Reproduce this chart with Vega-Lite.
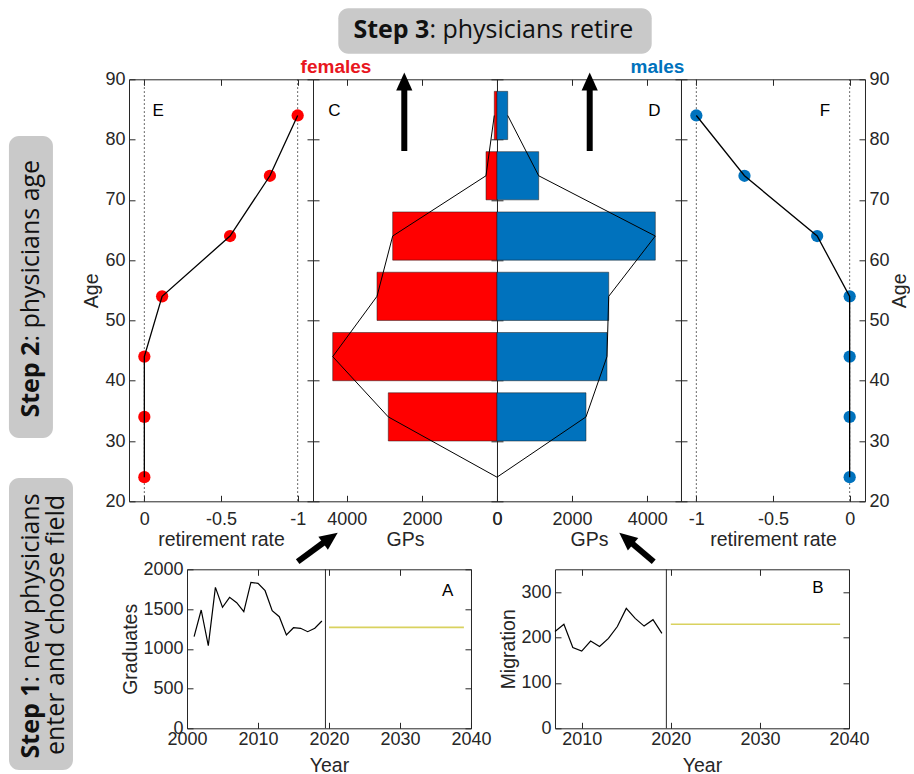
{
  "$schema": "https://vega.github.io/schema/vega-lite/v6.json",
  "padding": {"left": 8, "top": 7.3, "right": 0, "bottom": 0},
  "spacing": -73,
  "datasets": {
    "fret": [{"age":24,"rate":0},{"age":34,"rate":0},{"age":44,"rate":0},{"age":54,"rate":-0.116},{"age":64,"rate":-0.559},{"age":74,"rate":-0.819},{"age":84,"rate":-1}],
    "mret": [{"age":24,"rate":0},{"age":34,"rate":0},{"age":44,"rate":0},{"age":54,"rate":0},{"age":64,"rate":-0.212},{"age":74,"rate":-0.686},{"age":84,"rate":-1}],
    "pyr": [
      {"age":24,"lo":null,"hi":null,"f":0,"m":0},
      {"age":34,"lo":30,"hi":38,"f":2895,"m":2370},
      {"age":44,"lo":40,"hi":48,"f":4375,"m":2929},
      {"age":54,"lo":50,"hi":58,"f":3196,"m":2975},
      {"age":64,"lo":60,"hi":68,"f":2778,"m":4216},
      {"age":74,"lo":70,"hi":78,"f":293,"m":1110},
      {"age":84,"lo":80,"hi":88,"f":72,"m":285}
    ],
    "guides": [{"v":0},{"v":-1}],
    "grad": [
      {"year":2001,"v":1152},{"year":2002,"v":1488},{"year":2003,"v":1039},{"year":2004,"v":1773},
      {"year":2005,"v":1522},{"year":2006,"v":1648},{"year":2007,"v":1580},{"year":2008,"v":1467},
      {"year":2009,"v":1836},{"year":2010,"v":1824},{"year":2011,"v":1731},{"year":2012,"v":1479},
      {"year":2013,"v":1404},{"year":2014,"v":1174},{"year":2015,"v":1265},{"year":2016,"v":1258},
      {"year":2017,"v":1215},{"year":2018,"v":1258},{"year":2019,"v":1350}
    ],
    "gradProj": [{"year":2020,"v":1270},{"year":2039,"v":1270}],
    "mig": [
      {"year":2007,"v":213},{"year":2008,"v":229},{"year":2009,"v":178},{"year":2010,"v":170},
      {"year":2011,"v":192},{"year":2012,"v":180},{"year":2013,"v":198},{"year":2014,"v":224},
      {"year":2015,"v":264},{"year":2016,"v":242},{"year":2017,"v":225},{"year":2018,"v":239},
      {"year":2019,"v":209}
    ],
    "migProj": [{"year":2020,"v":229},{"year":2039,"v":229}]
  },
  "vconcat": [
    {
      "hconcat": [
        {
          "width": 184, "height": 422,
          "resolve": {"axis": {"x": "independent", "y": "independent"}},
          "layer": [
            {"data": {"name": "guides"}, "mark": {"type": "rule", "color": "#3a3a3a", "strokeWidth": 1, "strokeDash": [1.5, 2.5]},
             "encoding": {"x": {"field": "v", "type": "quantitative", "scale": {"domain": [-1.1, 0.1], "reverse": true, "nice": false, "zero": false}, "axis": null}}},
            {"data": {"name": "fret"}, "mark": {"type": "circle", "color": "#FF0000", "size": 150, "opacity": 1},
             "encoding": {
               "x": {"field": "rate", "type": "quantitative", "scale": {"domain": [-1.1, 0.1], "reverse": true, "nice": false, "zero": false}, "axis": {"orient": "top", "values": [0, -0.5, -1], "labels": false, "title": null}},
               "y": {"field": "age", "type": "quantitative", "scale": {"domain": [20, 90], "nice": false, "zero": false}, "axis": {"orient": "right", "values": [20,30,40,50,60,70,80,90], "labels": false, "title": null}}}},
            {"data": {"name": "fret"}, "mark": {"type": "line", "color": "black", "strokeWidth": 1.3},
             "encoding": {
               "x": {"field": "rate", "type": "quantitative", "scale": {"domain": [-1.1, 0.1], "reverse": true, "nice": false, "zero": false}, "axis": {"orient": "bottom", "values": [0, -0.5, -1], "labelExpr": "toString(datum.value)", "title": "retirement rate", "labelPadding": 15.4, "titlePadding": 2}},
               "y": {"field": "age", "type": "quantitative", "scale": {"domain": [20, 90], "nice": false, "zero": false}, "axis": {"orient": "left", "values": [20,30,40,50,60,70,80,90], "title": "Age"}},
               "order": {"field": "age", "type": "quantitative"}}},
            {"data": {"values": [{}]}, "mark": {"type": "text", "text": "E", "fontSize": 17, "color": "black", "align": "center", "baseline": "middle"},
             "encoding": {"x": {"datum": -0.091, "type": "quantitative", "axis": null}, "y": {"datum": 84.74, "type": "quantitative", "axis": null}}},
            {"data": {"values": [{}]}, "mark": {"type": "rect", "color": "#C9C9C9", "cornerRadius": 10, "clip": false},
             "encoding": {"x": {"datum": 0.883, "type": "quantitative", "axis": null}, "x2": {"datum": 0.596}, "y": {"datum": 80.59, "type": "quantitative", "axis": null}, "y2": {"datum": 30.5}}},
            {"data": {"values": [{}]}, "mark": {"type": "text", "text": "Step 2", "font": "Open Sans", "fontWeight": "bold", "fontSize": 25, "angle": 270, "align": "right", "baseline": "middle", "color": "#111111", "clip": false},
             "encoding": {"x": {"datum": 0.739, "type": "quantitative", "axis": null}, "y": {"datum": 46.49, "type": "quantitative", "axis": null}}},
            {"data": {"values": [{}]}, "mark": {"type": "text", "text": ": physicians age", "font": "Open Sans", "fontSize": 25, "angle": 270, "align": "left", "baseline": "middle", "color": "#111111", "clip": false},
             "encoding": {"x": {"datum": 0.739, "type": "quantitative", "axis": null}, "y": {"datum": 46.49, "type": "quantitative", "axis": null}}}
          ]
        },
        {
          "width": 184, "height": 422,
          "resolve": {"axis": {"x": "independent", "y": "independent"}},
          "layer": [
            {"data": {"name": "pyr"}, "transform": [{"filter": "datum.lo != null"}],
             "mark": {"type": "rect", "color": "#FF0000", "stroke": "#1a1a1a", "strokeWidth": 0.5},
             "encoding": {
               "x": {"field": "f", "type": "quantitative", "scale": {"domain": [0, 4900], "reverse": true, "nice": false, "zero": false}, "axis": {"orient": "bottom", "values": [0, 2000, 4000], "format": "d", "title": "GPs", "labelPadding": 15.4, "titlePadding": 2}},
               "x2": {"datum": 0},
               "y": {"field": "lo", "type": "quantitative", "scale": {"domain": [20, 90], "nice": false, "zero": false}, "axis": {"orient": "left", "values": [20,30,40,50,60,70,80,90], "labels": false, "title": null}},
               "y2": {"field": "hi"}}},
            {"data": {"name": "pyr"}, "mark": {"type": "line", "color": "black", "strokeWidth": 1},
             "encoding": {
               "x": {"field": "f", "type": "quantitative", "scale": {"domain": [0, 4900], "reverse": true, "nice": false, "zero": false}, "axis": {"orient": "top", "values": [0, 2000, 4000], "labels": false, "title": null}},
               "y": {"field": "age", "type": "quantitative", "scale": {"domain": [20, 90], "nice": false, "zero": false}, "axis": {"orient": "right", "values": [20,30,40,50,60,70,80,90], "labels": false, "title": null}},
               "order": {"field": "age", "type": "quantitative"}}},
            {"data": {"values": [{}]}, "mark": {"type": "text", "text": "C", "fontSize": 17, "color": "black", "align": "center", "baseline": "middle"},
             "encoding": {"x": {"datum": 4333, "type": "quantitative", "axis": null}, "y": {"datum": 84.74, "type": "quantitative", "axis": null}}},
            {"data": {"values": [{}]}, "mark": {"type": "text", "text": "females", "fontSize": 19, "fontWeight": "bold", "color": "#E8161E", "align": "center", "baseline": "middle", "clip": false},
             "encoding": {"x": {"datum": 4288, "type": "quantitative", "axis": null}, "y": {"datum": 92.09, "type": "quantitative", "axis": null}}},
            {"data": {"values": [{}]}, "mark": {"type": "rule", "color": "black", "strokeWidth": 6, "clip": false},
             "encoding": {"x": {"datum": 2469, "type": "quantitative", "axis": null}, "y": {"datum": 78.11, "type": "quantitative", "axis": null}, "y2": {"datum": 88.3}}},
            {"data": {"values": [{}]}, "mark": {"type": "point", "shape": "M0,-1L0.9,1L-0.9,1Z", "filled": true, "color": "black", "opacity": 1, "size": 324, "angle": 0, "clip": false},
             "encoding": {"x": {"datum": 2469, "type": "quantitative", "axis": null}, "y": {"datum": 89.64, "type": "quantitative", "axis": null}}},
            {"data": {"values": [{}]}, "mark": {"type": "rect", "color": "#C9C9C9", "cornerRadius": 10, "clip": false},
             "encoding": {"x": {"datum": 4226, "type": "quantitative", "axis": null}, "x2": {"datum": -4120}, "y": {"datum": 101.78, "type": "quantitative", "axis": null}, "y2": {"datum": 94.25}}},
            {"data": {"values": [{}]}, "mark": {"type": "text", "text": "Step 3", "font": "Open Sans", "fontWeight": "bold", "fontSize": 25, "align": "right", "baseline": "alphabetic", "color": "#111111", "clip": false},
             "encoding": {"x": {"datum": 1800, "type": "quantitative", "axis": null}, "y": {"datum": 96.8, "type": "quantitative", "axis": null}}},
            {"data": {"values": [{}]}, "mark": {"type": "text", "text": ": physicians retire", "font": "Open Sans", "fontSize": 25, "align": "left", "baseline": "alphabetic", "color": "#111111", "clip": false},
             "encoding": {"x": {"datum": 1800, "type": "quantitative", "axis": null}, "y": {"datum": 96.8, "type": "quantitative", "axis": null}}}
          ]
        },
        {
          "width": 184, "height": 422,
          "resolve": {"axis": {"x": "independent", "y": "independent"}},
          "layer": [
            {"data": {"name": "pyr"}, "transform": [{"filter": "datum.lo != null"}],
             "mark": {"type": "rect", "color": "#0072BD", "stroke": "#1a1a1a", "strokeWidth": 0.5},
             "encoding": {
               "x": {"field": "m", "type": "quantitative", "scale": {"domain": [0, 4900], "nice": false, "zero": false}, "axis": {"orient": "bottom", "values": [0, 2000, 4000], "format": "d", "title": "GPs", "labelPadding": 15.4, "titlePadding": 2}},
               "x2": {"datum": 0},
               "y": {"field": "lo", "type": "quantitative", "scale": {"domain": [20, 90], "nice": false, "zero": false}, "axis": {"orient": "left", "values": [20,30,40,50,60,70,80,90], "labels": false, "title": null}},
               "y2": {"field": "hi"}}},
            {"data": {"name": "pyr"}, "mark": {"type": "line", "color": "black", "strokeWidth": 1},
             "encoding": {
               "x": {"field": "m", "type": "quantitative", "scale": {"domain": [0, 4900], "nice": false, "zero": false}, "axis": {"orient": "top", "values": [0, 2000, 4000], "labels": false, "title": null}},
               "y": {"field": "age", "type": "quantitative", "scale": {"domain": [20, 90], "nice": false, "zero": false}, "axis": {"orient": "right", "values": [20,30,40,50,60,70,80,90], "labels": false, "title": null}},
               "order": {"field": "age", "type": "quantitative"}}},
            {"data": {"values": [{}]}, "mark": {"type": "text", "text": "D", "fontSize": 17, "color": "black", "align": "center", "baseline": "middle"},
             "encoding": {"x": {"datum": 4189, "type": "quantitative", "axis": null}, "y": {"datum": 84.74, "type": "quantitative", "axis": null}}},
            {"data": {"values": [{}]}, "mark": {"type": "text", "text": "males", "fontSize": 19, "fontWeight": "bold", "color": "#0072BD", "align": "center", "baseline": "middle", "clip": false},
             "encoding": {"x": {"datum": 4274, "type": "quantitative", "axis": null}, "y": {"datum": 92.09, "type": "quantitative", "axis": null}}},
            {"data": {"values": [{}]}, "mark": {"type": "rule", "color": "black", "strokeWidth": 6, "clip": false},
             "encoding": {"x": {"datum": 2469, "type": "quantitative", "axis": null}, "y": {"datum": 78.11, "type": "quantitative", "axis": null}, "y2": {"datum": 88.3}}},
            {"data": {"values": [{}]}, "mark": {"type": "point", "shape": "M0,-1L0.9,1L-0.9,1Z", "filled": true, "color": "black", "opacity": 1, "size": 324, "angle": 0, "clip": false},
             "encoding": {"x": {"datum": 2469, "type": "quantitative", "axis": null}, "y": {"datum": 89.64, "type": "quantitative", "axis": null}}}
          ]
        },
        {
          "width": 184, "height": 422,
          "resolve": {"axis": {"x": "independent", "y": "independent"}},
          "layer": [
            {"data": {"name": "guides"}, "mark": {"type": "rule", "color": "#3a3a3a", "strokeWidth": 1, "strokeDash": [1.5, 2.5]},
             "encoding": {"x": {"field": "v", "type": "quantitative", "scale": {"domain": [-1.1, 0.1], "nice": false, "zero": false}, "axis": null}}},
            {"data": {"name": "mret"}, "mark": {"type": "circle", "color": "#0072BD", "size": 150, "opacity": 1},
             "encoding": {
               "x": {"field": "rate", "type": "quantitative", "scale": {"domain": [-1.1, 0.1], "nice": false, "zero": false}, "axis": {"orient": "top", "values": [-1, -0.5, 0], "labels": false, "title": null}},
               "y": {"field": "age", "type": "quantitative", "scale": {"domain": [20, 90], "nice": false, "zero": false}, "axis": {"orient": "left", "values": [20,30,40,50,60,70,80,90], "labels": false, "title": null}}}},
            {"data": {"name": "mret"}, "mark": {"type": "line", "color": "black", "strokeWidth": 1.3},
             "encoding": {
               "x": {"field": "rate", "type": "quantitative", "scale": {"domain": [-1.1, 0.1], "nice": false, "zero": false}, "axis": {"orient": "bottom", "values": [-1, -0.5, 0], "labelExpr": "toString(datum.value)", "title": "retirement rate", "labelPadding": 15.4, "titlePadding": 2}},
               "y": {"field": "age", "type": "quantitative", "scale": {"domain": [20, 90], "nice": false, "zero": false}, "axis": {"orient": "right", "values": [20,30,40,50,60,70,80,90], "title": "Age", "titleAngle": 270, "titleBaseline": "top", "titlePadding": 1}},
               "order": {"field": "age", "type": "quantitative"}}},
            {"data": {"values": [{}]}, "mark": {"type": "text", "text": "F", "fontSize": 17, "color": "black", "align": "center", "baseline": "middle"},
             "encoding": {"x": {"datum": -0.161, "type": "quantitative", "axis": null}, "y": {"datum": 84.74, "type": "quantitative", "axis": null}}}
          ]
        }
      ],
      "spacing": 0,
      "bounds": "flush"
    },
    {
      "hconcat": [
        {
          "width": 58, "height": 159, "view": {"stroke": null},
          "data": {"values": [{}]},
          "mark": {"type": "text", "text": ""}
        },
        {
          "width": 284, "height": 159,
          "resolve": {"axis": {"x": "independent", "y": "independent"}},
          "layer": [
            {"data": {"name": "grad"}, "mark": {"type": "line", "color": "black", "strokeWidth": 1.2},
             "encoding": {
               "x": {"field": "year", "type": "quantitative", "scale": {"domain": [2000, 2040], "nice": false, "zero": false}, "axis": {"orient": "bottom", "values": [2000, 2010, 2020, 2030, 2040], "format": "d", "title": "Year", "labelPadding": 8, "titlePadding": 8}},
               "y": {"field": "v", "type": "quantitative", "scale": {"domain": [0, 2000], "nice": false, "zero": false}, "axis": {"orient": "left", "values": [0, 500, 1000, 1500, 2000], "format": "d", "title": "Graduates", "titlePadding": 2}}}},
            {"data": {"name": "gradProj"}, "mark": {"type": "line", "color": "#D9D25F", "strokeWidth": 1.6},
             "encoding": {
               "x": {"field": "year", "type": "quantitative", "scale": {"domain": [2000, 2040], "nice": false, "zero": false}, "axis": {"orient": "top", "values": [2000, 2010, 2020, 2030, 2040], "labels": false, "title": null}},
               "y": {"field": "v", "type": "quantitative", "scale": {"domain": [0, 2000], "nice": false, "zero": false}, "axis": {"orient": "right", "values": [0, 500, 1000, 1500, 2000], "labels": false, "title": null}}}},
            {"data": {"values": [{}]}, "mark": {"type": "rule", "color": "#262626", "strokeWidth": 1},
             "encoding": {"x": {"datum": 2019.5, "type": "quantitative", "axis": null}}},
            {"data": {"values": [{}]}, "mark": {"type": "text", "text": "A", "fontSize": 17, "color": "black", "align": "center", "baseline": "middle"},
             "encoding": {"x": {"datum": 2036.7, "type": "quantitative", "axis": null}, "y": {"datum": 1731, "type": "quantitative", "axis": null}}},
            {"data": {"values": [{}]}, "mark": {"type": "rule", "color": "black", "strokeWidth": 6, "clip": false},
             "encoding": {"x": {"datum": 2015.59, "type": "quantitative", "axis": null}, "y": {"datum": 2095.6, "type": "quantitative", "axis": null}, "x2": {"datum": 2019.3}, "y2": {"datum": 2340}}},
            {"data": {"values": [{}]}, "mark": {"type": "point", "shape": "M0,-1L0.9,1L-0.9,1Z", "filled": true, "color": "black", "opacity": 1, "size": 324, "angle": 54, "clip": false},
             "encoding": {"x": {"datum": 2020.2, "type": "quantitative", "axis": null}, "y": {"datum": 2394, "type": "quantitative", "axis": null}}},
            {"data": {"values": [{}]}, "mark": {"type": "rect", "color": "#C9C9C9", "cornerRadius": 10, "clip": false},
             "encoding": {"x": {"datum": 1974.93, "type": "quantitative", "axis": null}, "x2": {"datum": 1983.94}, "y": {"datum": 3148, "type": "quantitative", "axis": null}, "y2": {"datum": -524.5}}},
            {"data": {"values": [{}]}, "mark": {"type": "text", "text": "Step 1", "font": "Open Sans", "fontWeight": "bold", "fontSize": 25, "angle": 270, "align": "right", "baseline": "middle", "color": "#111111", "clip": false},
             "encoding": {"x": {"datum": 1978.03, "type": "quantitative", "axis": null}, "y": {"datum": 577, "type": "quantitative", "axis": null}}},
            {"data": {"values": [{}]}, "mark": {"type": "text", "text": ": new physicians", "font": "Open Sans", "fontSize": 25, "angle": 270, "align": "left", "baseline": "middle", "color": "#111111", "clip": false},
             "encoding": {"x": {"datum": 1978.03, "type": "quantitative", "axis": null}, "y": {"datum": 577, "type": "quantitative", "axis": null}}},
            {"data": {"values": [{}]}, "mark": {"type": "text", "text": "enter and choose field", "font": "Open Sans", "fontSize": 25, "angle": 270, "align": "center", "baseline": "middle", "color": "#111111", "clip": false},
             "encoding": {"x": {"datum": 1981.55, "type": "quantitative", "axis": null}, "y": {"datum": 1299, "type": "quantitative", "axis": null}}}
          ]
        },
        {
          "width": 84, "height": 159, "view": {"stroke": null},
          "data": {"values": [{}]},
          "mark": {"type": "text", "text": ""}
        },
        {
          "width": 294, "height": 159,
          "resolve": {"axis": {"x": "independent", "y": "independent"}},
          "layer": [
            {"data": {"name": "mig"}, "mark": {"type": "line", "color": "black", "strokeWidth": 1.2},
             "encoding": {
               "x": {"field": "year", "type": "quantitative", "scale": {"domain": [2007, 2040], "nice": false, "zero": false}, "axis": {"orient": "bottom", "values": [2010, 2020, 2030, 2040], "format": "d", "title": "Year", "labelPadding": 8, "titlePadding": 8}},
               "y": {"field": "v", "type": "quantitative", "scale": {"domain": [0, 350], "nice": false, "zero": false}, "axis": {"orient": "left", "values": [0, 100, 200, 300], "format": "d", "title": "Migration", "titlePadding": 2}}}},
            {"data": {"name": "migProj"}, "mark": {"type": "line", "color": "#D9D25F", "strokeWidth": 1.6},
             "encoding": {
               "x": {"field": "year", "type": "quantitative", "scale": {"domain": [2007, 2040], "nice": false, "zero": false}, "axis": {"orient": "top", "values": [2010, 2020, 2030, 2040], "labels": false, "title": null}},
               "y": {"field": "v", "type": "quantitative", "scale": {"domain": [0, 350], "nice": false, "zero": false}, "axis": {"orient": "right", "values": [0, 100, 200, 300], "labels": false, "title": null}}}},
            {"data": {"values": [{}]}, "mark": {"type": "rule", "color": "#262626", "strokeWidth": 1},
             "encoding": {"x": {"datum": 2019.5, "type": "quantitative", "axis": null}}},
            {"data": {"values": [{}]}, "mark": {"type": "text", "text": "B", "fontSize": 17, "color": "black", "align": "center", "baseline": "middle"},
             "encoding": {"x": {"datum": 2036.5, "type": "quantitative", "axis": null}, "y": {"datum": 308, "type": "quantitative", "axis": null}}},
            {"data": {"values": [{}]}, "mark": {"type": "rule", "color": "black", "strokeWidth": 6, "clip": false},
             "encoding": {"x": {"datum": 2018.08, "type": "quantitative", "axis": null}, "y": {"datum": 366.7, "type": "quantitative", "axis": null}, "x2": {"datum": 2015.6}, "y2": {"datum": 408}}},
            {"data": {"values": [{}]}, "mark": {"type": "point", "shape": "M0,-1L0.9,1L-0.9,1Z", "filled": true, "color": "black", "opacity": 1, "size": 324, "angle": 310, "clip": false},
             "encoding": {"x": {"datum": 2014.99, "type": "quantitative", "axis": null}, "y": {"datum": 417.8, "type": "quantitative", "axis": null}}}
          ]
        }
      ],
      "spacing": 0,
      "bounds": "flush"
    }
  ],
  "config": {
    "font": "Liberation Sans",
    "view": {"stroke": "#262626", "strokeWidth": 1},
    "axis": {
      "grid": false, "domain": false, "ticks": true, "tickSize": -6, "tickColor": "#262626", "tickWidth": 1,
      "labelFont": "Liberation Sans", "labelFontSize": 18, "labelColor": "#262626", "labelFlush": false, "labelOverlap": false, "labelPadding": 10,
      "titleFont": "Liberation Sans", "titleFontSize": 19.5, "titleFontWeight": "normal", "titleColor": "#262626", "titlePadding": 3
    }
  }
}
